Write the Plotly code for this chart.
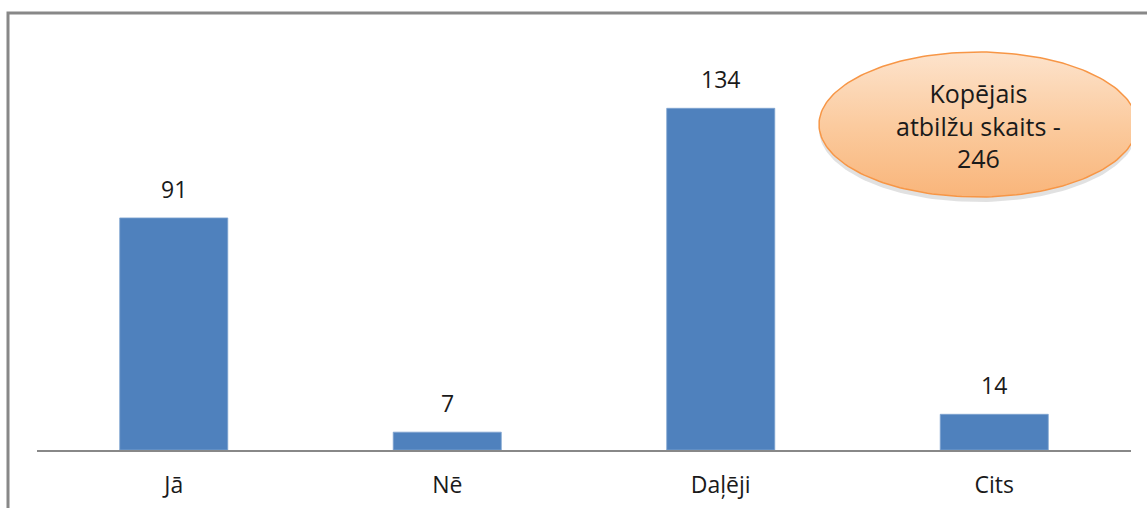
import numpy as np
import plotly.graph_objects as go

categories = ["Jā", "Nē", "Daļēji", "Cits"]
values = [91, 7, 134, 14]
total_label = "Kopējais<br>atbilžu skaits -<br>246"

W, H = 1147, 508
L, R, T, B = 37, 16, 42, 58
PW = W - L - R
PH = H - T - B
FONT = "Open Sans"

fig = go.Figure()
fig.add_trace(go.Bar(
    x=categories, y=values, width=0.395,
    marker=dict(color="#4F81BD", line=dict(color="#7fa3d1", width=0.8)),
    showlegend=False, hoverinfo="skip",
))

for c, v in zip(categories, values):
    fig.add_annotation(x=c, y=v, text=str(v), showarrow=False,
                       yanchor="bottom", yshift=11,
                       font=dict(size=23, color="#1a1a1a", family=FONT))

# ellipse in pixel coords on overlay axes
cx, cy, rx, ry = 978, 124.5, 159, 72.5
t = np.linspace(0, 2 * np.pi, 200)
fig.add_trace(go.Scatter(
    x=cx + rx * np.cos(t), y=cy + 5 + ry * np.sin(t),
    xaxis="x2", yaxis="y2", mode="lines", fill="toself",
    fillcolor="rgba(120,120,120,0.22)", line=dict(width=0),
    showlegend=False, hoverinfo="skip",
))
fig.add_trace(go.Scatter(
    x=cx + rx * np.cos(t), y=cy + ry * np.sin(t),
    xaxis="x2", yaxis="y2", mode="lines", fill="toself",
    fillgradient=dict(type="vertical", start=cy - ry, stop=cy + ry,
                      colorscale=[[0, "#FDE3CC"], [0.5, "#FBCB9F"], [1, "#F9B57A"]]),
    line=dict(color="#F79646", width=1.5),
    showlegend=False, hoverinfo="skip",
))

fig.add_annotation(
    x=cx, y=cy + 1, xref="x2", yref="y2", text=total_label, showarrow=False,
    font=dict(size=25, color="#1a1a1a", family=FONT),
    align="center",
)

# outer border (left and top)
fig.add_shape(type="rect", xref="paper", yref="paper",
              x0=(8 - L) / PW, x1=(W + 20 - L) / PW,
              y0=-(H + 20 - T - PH) / PH, y1=(T + PH - 13) / PH,
              line=dict(color="#888888", width=3), layer="below")

fig.update_layout(
    width=W, height=H,
    margin=dict(l=L, r=R, t=T, b=B, autoexpand=False),
    paper_bgcolor="white", plot_bgcolor="white",
    bargap=0.6,
    xaxis=dict(showline=True, linecolor="#888888", linewidth=2, automargin=False,
               ticks="", showgrid=False, ticklabelstandoff=13,
               tickfont=dict(size=23, color="#1a1a1a", family=FONT)),
    yaxis=dict(range=[0, 160], visible=False, showgrid=False, automargin=False),
    xaxis2=dict(range=[L, L + PW], overlaying="x", visible=False),
    yaxis2=dict(range=[T + PH, T], overlaying="y", visible=False),
)

fig.write_html("out.html")
